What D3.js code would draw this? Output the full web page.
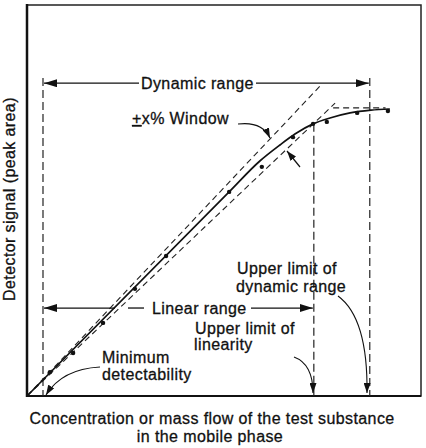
<!DOCTYPE html>
<html><head><meta charset="utf-8">
<script src="https://cdn.jsdelivr.net/npm/d3@7"></script>
<style>
html,body{margin:0;padding:0;background:#fff;}
text{font-family:"Liberation Sans",Arial,Helvetica,sans-serif;fill:#111;letter-spacing:0.4px;stroke:#111;stroke-width:0.3px;}
</style></head>
<body>
<svg id="c" width="426" height="448"></svg>
<script>
// ---- data (arbitrary units, 0-100 on both axes) ----
const measuredX = [5.8, 11.7, 19.3, 27.4, 35.3, 51.3, 59.6, 67.5, 72.6, 76.1, 83.8, 91.6];
const measuredY = [6.1, 11.0, 18.7, 27.4, 35.8, 52.2, 58.6, 66.2, 69.6, 70.1, 72.4, 72.9];
const curveX = [0, 51.3, 59.1, 64.2, 68.0, 72.6, 76.9, 82.0, 87.3, 92.1];
const curveY = [0, 52.2, 60.1, 64.2, 67.0, 69.6, 71.1, 72.4, 73.1, 73.4];
const windowUpper = [[0, 0], [74.4, 79.3]];
const windowLower = [[0, 0], [78.2, 74.9]];
const plateauLine = [[77.7, 73.7], [91.0, 73.7]];
const limitMinX = 4.06, limitLinX = 72.8, limitDynX = 87.0;
const limitTopY = 81.3, linTopY = 69.6;
const dynArrowY = 80.0, linArrowY = 22.5;

const svg = d3.select("#c");
const x = d3.scaleLinear().domain([0, 100]).range([27, 421]);
const y = d3.scaleLinear().domain([0, 100]).range([396, 5]);

const defs = svg.append("defs");
function marker(id, L, W) {
  defs.append("marker").attr("id", id).attr("markerUnits", "userSpaceOnUse")
    .attr("markerWidth", L).attr("markerHeight", W).attr("refX", L).attr("refY", W / 2)
    .attr("orient", "auto")
    .append("path").attr("d", `M0,0 L${L},${W/2} L0,${W} Z`).attr("fill", "#111");
}
marker("big", 13, 8);
marker("small", 10, 7);

// frame
svg.append("rect").attr("x", 27).attr("y", 5).attr("width", 394).attr("height", 391)
  .attr("fill", "none").attr("stroke", "#222").attr("stroke-width", 1.5);
svg.append("line").attr("x1", x(0)).attr("x2", x(0)).attr("y1", 4).attr("y2", 397)
  .attr("stroke", "#111").attr("stroke-width", 2.5);
svg.append("line").attr("x1", 26).attr("x2", 421).attr("y1", y(0)).attr("y2", y(0))
  .attr("stroke", "#111").attr("stroke-width", 2);

const line = d3.line().x(d => x(d[0])).y(d => y(d[1]));

// window dashed lines
[windowUpper, windowLower, plateauLine].forEach(pts => {
  svg.append("path").attr("d", line(pts)).attr("fill", "none")
    .attr("stroke", "#222").attr("stroke-width", 1.1).attr("stroke-dasharray", "6,4");
});

// vertical limits
svg.append("line").attr("x1", x(limitMinX)).attr("x2", x(limitMinX)).attr("y1", y(limitTopY)).attr("y2", y(0))
  .attr("stroke", "#222").attr("stroke-width", 1.2).attr("stroke-dasharray", "8,4");
svg.append("line").attr("x1", x(limitDynX)).attr("x2", x(limitDynX)).attr("y1", y(limitTopY)).attr("y2", y(0))
  .attr("stroke", "#222").attr("stroke-width", 1.2).attr("stroke-dasharray", "8,4");
svg.append("line").attr("x1", x(limitLinX)).attr("x2", x(limitLinX)).attr("y1", y(linTopY)).attr("y2", y(0))
  .attr("stroke", "#222").attr("stroke-width", 1.2).attr("stroke-dasharray", "8,4");

// response curve
const cpts = curveX.map((v, i) => [v, curveY[i]]);
svg.append("path").attr("d", line.curve(d3.curveMonotoneX)(cpts)).attr("fill", "none")
  .attr("stroke", "#111").attr("stroke-width", 1.7);

// measured points
svg.selectAll("circle.pt").data(measuredX.map((v, i) => [v, measuredY[i]])).join("circle")
  .attr("class", "pt").attr("cx", d => x(d[0])).attr("cy", d => y(d[1])).attr("r", 2.2).attr("fill", "#111");

// Dynamic range arrows
const yd = y(dynArrowY);
svg.append("line").attr("x1", 139).attr("x2", x(limitMinX) + 1).attr("y1", yd).attr("y2", yd)
  .attr("stroke", "#111").attr("stroke-width", 1.3).attr("marker-end", "url(#big)");
svg.append("line").attr("x1", 256).attr("x2", x(limitDynX) - 1).attr("y1", yd).attr("y2", yd)
  .attr("stroke", "#111").attr("stroke-width", 1.3).attr("marker-end", "url(#big)");
svg.append("text").attr("x", 141).attr("y", yd + 5.5).attr("font-size", 16).text("Dynamic range");

// Linear range arrows
const yl = y(linArrowY);
svg.append("line").attr("x1", 115).attr("x2", x(limitMinX) + 1).attr("y1", yl).attr("y2", yl)
  .attr("stroke", "#111").attr("stroke-width", 1.3).attr("marker-end", "url(#big)");
svg.append("line").attr("x1", 128).attr("x2", 144).attr("y1", yl).attr("y2", yl)
  .attr("stroke", "#111").attr("stroke-width", 1.3);
svg.append("line").attr("x1", 251).attr("x2", x(limitLinX) - 1).attr("y1", yl).attr("y2", yl)
  .attr("stroke", "#111").attr("stroke-width", 1.3).attr("marker-end", "url(#big)");
svg.append("text").attr("x", 152).attr("y", yl + 5.5).attr("font-size", 16).text("Linear range");

// ±x% Window
svg.append("text").attr("x", 132).attr("y", 124).attr("font-size", 16)
  .html('<tspan text-decoration="underline">+</tspan>x% Window');
svg.append("path").attr("d", "M238,124 Q262,121 270,138").attr("fill", "none")
  .attr("stroke", "#111").attr("stroke-width", 1.2).attr("marker-end", "url(#small)");
svg.append("path").attr("d", "M300,167 L287,151").attr("fill", "none")
  .attr("stroke", "#111").attr("stroke-width", 1.2).attr("marker-end", "url(#small)");

// Upper limit of dynamic range
svg.append("text").attr("x", 237).attr("y", 274).attr("font-size", 16).text("Upper limit of");
svg.append("text").attr("x", 236).attr("y", 292).attr("font-size", 16).text("dynamic range");
svg.append("path").attr("d", "M338,296 Q368,318 367,393").attr("fill", "none")
  .attr("stroke", "#111").attr("stroke-width", 1.1).attr("marker-end", "url(#small)");

// Upper limit of linearity
svg.append("text").attr("x", 195).attr("y", 334).attr("font-size", 16).text("Upper limit of");
svg.append("text").attr("x", 194).attr("y", 350).attr("font-size", 16).text("linearity");
svg.append("path").attr("d", "M294,357 Q313,364 313,393").attr("fill", "none")
  .attr("stroke", "#111").attr("stroke-width", 1.1).attr("marker-end", "url(#small)");

// Minimum detectability
svg.append("text").attr("x", 102).attr("y", 363).attr("font-size", 16).text("Minimum");
svg.append("text").attr("x", 102).attr("y", 380).attr("font-size", 16).text("detectability");
svg.append("path").attr("d", "M100,367 Q62,369 46,395").attr("fill", "none")
  .attr("stroke", "#111").attr("stroke-width", 1.1).attr("marker-end", "url(#small)");

// axis titles
svg.append("text").attr("x", 212).attr("y", 424).attr("font-size", 16).attr("text-anchor", "middle")
  .text("Concentration or mass flow of the test substance");
svg.append("text").attr("x", 210).attr("y", 442).attr("font-size", 16).attr("text-anchor", "middle")
  .text("in the mobile phase");
svg.append("text").attr("transform", "translate(15,199) rotate(-90)").attr("font-size", 16)
  .attr("text-anchor", "middle").text("Detector signal (peak area)");
</script>
</body></html>
